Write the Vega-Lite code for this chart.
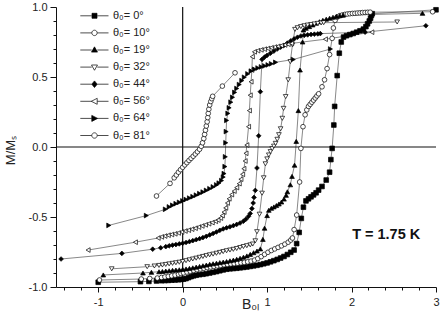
{
 "$schema": "https://vega.github.io/schema/vega-lite/v6.json",
 "width": 380, "height": 280,
 "autosize": {"type": "none"},
 "padding": {"left": 56, "top": 7, "right": 6, "bottom": 28},
 "background": "white",
 "config": {"view": {"stroke": null}, "font": "Liberation Sans"},
 "datasets": {"curves": [
{"s":"0","B":-1,"M":-0.966},{"s":"0","B":-0.5,"M":-0.962},{"s":"0","B":-0.4,"M":-0.96},{"s":"0","B":-0.31,"M":-0.957},
{"s":"0","B":-0.25,"M":-0.955},{"s":"0","B":-0.21,"M":-0.954},{"s":"0","B":-0.17,"M":-0.953},{"s":"0","B":-0.13,"M":-0.951},{"s":"0","B":-0.09,"M":-0.95},{"s":"0","B":-0.05,"M":-0.948},{"s":"0","B":-0.02,"M":-0.946},{"s":"0","B":0.01,"M":-0.944},{"s":"0","B":0.04,"M":-0.94},{"s":"0","B":0.07,"M":-0.933},{"s":"0","B":0.1,"M":-0.926},{"s":"0","B":0.13,"M":-0.92},{"s":"0","B":0.16,"M":-0.916},{"s":"0","B":0.2,"M":-0.912},{"s":"0","B":0.24,"M":-0.909},{"s":"0","B":0.28,"M":-0.905},{"s":"0","B":0.32,"M":-0.9},{"s":"0","B":0.36,"M":-0.895},{"s":"0","B":0.4,"M":-0.89},{"s":"0","B":0.44,"M":-0.884},{"s":"0","B":0.48,"M":-0.878},{"s":"0","B":0.52,"M":-0.873},{"s":"0","B":0.56,"M":-0.87},{"s":"0","B":0.6,"M":-0.868},{"s":"0","B":0.64,"M":-0.866},{"s":"0","B":0.68,"M":-0.863},{"s":"0","B":0.72,"M":-0.86},{"s":"0","B":0.76,"M":-0.857},{"s":"0","B":0.8,"M":-0.853},{"s":"0","B":0.84,"M":-0.849},{"s":"0","B":0.88,"M":-0.845},{"s":"0","B":0.92,"M":-0.84},{"s":"0","B":0.96,"M":-0.834},{"s":"0","B":1,"M":-0.828},{"s":"0","B":1.04,"M":-0.82},{"s":"0","B":1.08,"M":-0.812},{"s":"0","B":1.12,"M":-0.803},{"s":"0","B":1.16,"M":-0.793},{"s":"0","B":1.2,"M":-0.782},{"s":"0","B":1.24,"M":-0.768},{"s":"0","B":1.28,"M":-0.752},
{"s":"0","B":1.32,"M":-0.736},{"s":"0","B":1.35,"M":-0.69},{"s":"0","B":1.38,"M":-0.61},{"s":"0","B":1.405,"M":-0.51},{"s":"0","B":1.43,"M":-0.43},{"s":"0","B":1.46,"M":-0.385},{"s":"0","B":1.49,"M":-0.37},{"s":"0","B":1.52,"M":-0.356},{"s":"0","B":1.55,"M":-0.342},{"s":"0","B":1.58,"M":-0.327},{"s":"0","B":1.61,"M":-0.308},{"s":"0","B":1.65,"M":-0.282},{"s":"0","B":1.7,"M":-0.236},{"s":"0","B":1.74,"M":-0.18},{"s":"0","B":1.755,"M":-0.09},{"s":"0","B":1.77,"M":-0.01},{"s":"0","B":1.79,"M":0.157},{"s":"0","B":1.8,"M":0.29},{"s":"0","B":1.83,"M":0.51},{"s":"0","B":1.855,"M":0.67},{"s":"0","B":1.878,"M":0.75},{"s":"0","B":1.905,"M":0.785},{"s":"0","B":1.94,"M":0.795},{"s":"0","B":1.98,"M":0.803},{"s":"0","B":2.02,"M":0.811},{"s":"0","B":2.06,"M":0.82},{"s":"0","B":2.1,"M":0.83},{"s":"0","B":2.14,"M":0.842},{"s":"0","B":2.17,"M":0.86},{"s":"0","B":2.19,"M":0.88},{"s":"0","B":2.21,"M":0.9},{"s":"0","B":2.225,"M":0.92},{"s":"0","B":2.235,"M":0.94},{"s":"0","B":2.245,"M":0.952},{"s":"0","B":3,"M":0.98},
{"s":"10","B":-0.985,"M":-0.95},{"s":"10","B":-0.49,"M":-0.943},{"s":"10","B":-0.39,"M":-0.939},{"s":"10","B":-0.3,"M":-0.936},
{"s":"10","B":-0.25,"M":-0.932},{"s":"10","B":-0.21,"M":-0.928},{"s":"10","B":-0.17,"M":-0.924},{"s":"10","B":-0.13,"M":-0.92},{"s":"10","B":-0.09,"M":-0.915},{"s":"10","B":-0.05,"M":-0.909},{"s":"10","B":-0.02,"M":-0.904},{"s":"10","B":0.01,"M":-0.899},{"s":"10","B":0.05,"M":-0.893},{"s":"10","B":0.09,"M":-0.887},{"s":"10","B":0.13,"M":-0.881},{"s":"10","B":0.17,"M":-0.876},{"s":"10","B":0.21,"M":-0.871},{"s":"10","B":0.25,"M":-0.866},{"s":"10","B":0.29,"M":-0.861},{"s":"10","B":0.33,"M":-0.857},{"s":"10","B":0.37,"M":-0.853},{"s":"10","B":0.41,"M":-0.849},{"s":"10","B":0.45,"M":-0.845},{"s":"10","B":0.49,"M":-0.841},{"s":"10","B":0.53,"M":-0.838},{"s":"10","B":0.57,"M":-0.835},{"s":"10","B":0.61,"M":-0.833},{"s":"10","B":0.65,"M":-0.83},{"s":"10","B":0.69,"M":-0.827},{"s":"10","B":0.73,"M":-0.824},{"s":"10","B":0.77,"M":-0.82},{"s":"10","B":0.81,"M":-0.815},{"s":"10","B":0.85,"M":-0.808},{"s":"10","B":0.89,"M":-0.797},{"s":"10","B":0.93,"M":-0.783},{"s":"10","B":0.97,"M":-0.767},{"s":"10","B":1.01,"M":-0.752},{"s":"10","B":1.05,"M":-0.739},{"s":"10","B":1.09,"M":-0.728},{"s":"10","B":1.13,"M":-0.717},{"s":"10","B":1.17,"M":-0.706},{"s":"10","B":1.21,"M":-0.694},{"s":"10","B":1.25,"M":-0.68},{"s":"10","B":1.28,"M":-0.665},
{"s":"10","B":1.3,"M":-0.65},{"s":"10","B":1.32,"M":-0.59},{"s":"10","B":1.35,"M":-0.486},{"s":"10","B":1.385,"M":-0.25},{"s":"10","B":1.4,"M":-0.01},{"s":"10","B":1.425,"M":0.145},{"s":"10","B":1.45,"M":0.23},{"s":"10","B":1.47,"M":0.265},{"s":"10","B":1.49,"M":0.29},{"s":"10","B":1.51,"M":0.305},{"s":"10","B":1.53,"M":0.32},{"s":"10","B":1.55,"M":0.335},{"s":"10","B":1.57,"M":0.35},{"s":"10","B":1.59,"M":0.365},{"s":"10","B":1.61,"M":0.38},{"s":"10","B":1.65,"M":0.43},{"s":"10","B":1.68,"M":0.48},{"s":"10","B":1.71,"M":0.56},{"s":"10","B":1.74,"M":0.66},{"s":"10","B":1.77,"M":0.776},{"s":"10","B":1.785,"M":0.85},{"s":"10","B":1.805,"M":0.905},{"s":"10","B":1.83,"M":0.928},{"s":"10","B":1.86,"M":0.938},{"s":"10","B":1.89,"M":0.943},{"s":"10","B":1.92,"M":0.947},{"s":"10","B":1.95,"M":0.95},{"s":"10","B":1.98,"M":0.952},{"s":"10","B":2.01,"M":0.954},{"s":"10","B":2.04,"M":0.955},{"s":"10","B":2.07,"M":0.957},{"s":"10","B":2.1,"M":0.958},{"s":"10","B":2.13,"M":0.96},{"s":"10","B":2.16,"M":0.961},{"s":"10","B":2.19,"M":0.962},{"s":"10","B":2.22,"M":0.963},{"s":"10","B":2.96,"M":0.966},
{"s":"19","B":-0.94,"M":-0.914},{"s":"19","B":-0.47,"M":-0.9},{"s":"19","B":-0.37,"M":-0.895},{"s":"19","B":-0.28,"M":-0.891},
{"s":"19","B":-0.24,"M":-0.889},{"s":"19","B":-0.2,"M":-0.886},{"s":"19","B":-0.16,"M":-0.884},{"s":"19","B":-0.12,"M":-0.881},{"s":"19","B":-0.08,"M":-0.879},{"s":"19","B":-0.04,"M":-0.877},{"s":"19","B":0,"M":-0.874},{"s":"19","B":0.04,"M":-0.871},{"s":"19","B":0.08,"M":-0.867},{"s":"19","B":0.12,"M":-0.863},{"s":"19","B":0.16,"M":-0.858},{"s":"19","B":0.2,"M":-0.853},{"s":"19","B":0.24,"M":-0.848},{"s":"19","B":0.28,"M":-0.843},{"s":"19","B":0.32,"M":-0.838},{"s":"19","B":0.36,"M":-0.834},{"s":"19","B":0.4,"M":-0.83},{"s":"19","B":0.44,"M":-0.826},{"s":"19","B":0.48,"M":-0.822},{"s":"19","B":0.52,"M":-0.818},{"s":"19","B":0.56,"M":-0.813},{"s":"19","B":0.6,"M":-0.808},{"s":"19","B":0.64,"M":-0.802},{"s":"19","B":0.68,"M":-0.795},{"s":"19","B":0.72,"M":-0.787},{"s":"19","B":0.76,"M":-0.778},{"s":"19","B":0.8,"M":-0.767},{"s":"19","B":0.84,"M":-0.755},{"s":"19","B":0.88,"M":-0.743},{"s":"19","B":0.92,"M":-0.728},
{"s":"19","B":0.95,"M":-0.66},{"s":"19","B":0.97,"M":-0.58},{"s":"19","B":1,"M":-0.49},{"s":"19","B":1.02,"M":-0.452},{"s":"19","B":1.05,"M":-0.438},{"s":"19","B":1.08,"M":-0.428},{"s":"19","B":1.11,"M":-0.418},{"s":"19","B":1.14,"M":-0.407},{"s":"19","B":1.17,"M":-0.393},{"s":"19","B":1.2,"M":-0.372},{"s":"19","B":1.225,"M":-0.345},{"s":"19","B":1.24,"M":-0.32},{"s":"19","B":1.275,"M":-0.27},{"s":"19","B":1.295,"M":-0.21},{"s":"19","B":1.325,"M":-0.13},{"s":"19","B":1.345,"M":0.04},{"s":"19","B":1.37,"M":0.26},{"s":"19","B":1.39,"M":0.55},{"s":"19","B":1.42,"M":0.75},{"s":"19","B":1.43,"M":0.836},{"s":"19","B":1.46,"M":0.848},{"s":"19","B":1.5,"M":0.86},{"s":"19","B":1.54,"M":0.872},{"s":"19","B":1.58,"M":0.884},{"s":"19","B":1.62,"M":0.895},{"s":"19","B":1.66,"M":0.905},{"s":"19","B":1.7,"M":0.913},{"s":"19","B":1.74,"M":0.92},{"s":"19","B":1.78,"M":0.927},{"s":"19","B":1.82,"M":0.933},{"s":"19","B":1.86,"M":0.938},{"s":"19","B":1.9,"M":0.942},{"s":"19","B":2.84,"M":0.955},
{"s":"32","B":-0.84,"M":-0.87},{"s":"32","B":-0.42,"M":-0.855},{"s":"32","B":-0.335,"M":-0.85},
{"s":"32","B":-0.28,"M":-0.846},{"s":"32","B":-0.24,"M":-0.843},{"s":"32","B":-0.2,"M":-0.839},{"s":"32","B":-0.16,"M":-0.835},{"s":"32","B":-0.12,"M":-0.831},{"s":"32","B":-0.08,"M":-0.827},{"s":"32","B":-0.04,"M":-0.823},{"s":"32","B":0,"M":-0.818},{"s":"32","B":0.04,"M":-0.812},{"s":"32","B":0.08,"M":-0.806},{"s":"32","B":0.12,"M":-0.8},{"s":"32","B":0.16,"M":-0.794},{"s":"32","B":0.2,"M":-0.788},{"s":"32","B":0.24,"M":-0.782},{"s":"32","B":0.28,"M":-0.776},{"s":"32","B":0.32,"M":-0.77},{"s":"32","B":0.36,"M":-0.765},{"s":"32","B":0.4,"M":-0.759},{"s":"32","B":0.44,"M":-0.753},{"s":"32","B":0.48,"M":-0.747},{"s":"32","B":0.52,"M":-0.741},{"s":"32","B":0.56,"M":-0.736},{"s":"32","B":0.6,"M":-0.731},{"s":"32","B":0.64,"M":-0.725},{"s":"32","B":0.68,"M":-0.718},{"s":"32","B":0.72,"M":-0.711},{"s":"32","B":0.76,"M":-0.705},{"s":"32","B":0.8,"M":-0.699},{"s":"32","B":0.83,"M":-0.693},
{"s":"32","B":0.86,"M":-0.67},{"s":"32","B":0.88,"M":-0.605},{"s":"32","B":0.91,"M":-0.48},{"s":"32","B":0.94,"M":-0.33},{"s":"32","B":0.96,"M":-0.22},{"s":"32","B":0.98,"M":-0.12},{"s":"32","B":1,"M":-0.085},{"s":"32","B":1.02,"M":-0.057},{"s":"32","B":1.04,"M":-0.033},{"s":"32","B":1.06,"M":-0.012},{"s":"32","B":1.08,"M":0.006},{"s":"32","B":1.1,"M":0.026},{"s":"32","B":1.12,"M":0.055},{"s":"32","B":1.14,"M":0.088},{"s":"32","B":1.16,"M":0.13},{"s":"32","B":1.18,"M":0.205},{"s":"32","B":1.195,"M":0.276},{"s":"32","B":1.22,"M":0.36},{"s":"32","B":1.25,"M":0.48},{"s":"32","B":1.275,"M":0.61},{"s":"32","B":1.3,"M":0.73},{"s":"32","B":1.33,"M":0.84},{"s":"32","B":1.36,"M":0.852},{"s":"32","B":1.4,"M":0.86},{"s":"32","B":1.44,"M":0.866},{"s":"32","B":1.48,"M":0.871},{"s":"32","B":1.52,"M":0.875},{"s":"32","B":1.56,"M":0.879},{"s":"32","B":1.6,"M":0.883},{"s":"32","B":1.64,"M":0.886},{"s":"32","B":1.67,"M":0.888},{"s":"32","B":2.54,"M":0.893},
{"s":"44","B":-1.44,"M":-0.8},{"s":"44","B":-0.72,"M":-0.76},{"s":"44","B":-0.355,"M":-0.73},{"s":"44","B":-0.26,"M":-0.72},
{"s":"44","B":-0.2,"M":-0.712},{"s":"44","B":-0.16,"M":-0.706},{"s":"44","B":-0.12,"M":-0.701},{"s":"44","B":-0.08,"M":-0.697},{"s":"44","B":-0.04,"M":-0.692},{"s":"44","B":0,"M":-0.688},{"s":"44","B":0.04,"M":-0.682},{"s":"44","B":0.08,"M":-0.676},{"s":"44","B":0.12,"M":-0.669},{"s":"44","B":0.16,"M":-0.662},{"s":"44","B":0.2,"M":-0.655},{"s":"44","B":0.24,"M":-0.647},{"s":"44","B":0.28,"M":-0.638},{"s":"44","B":0.32,"M":-0.628},{"s":"44","B":0.36,"M":-0.618},{"s":"44","B":0.4,"M":-0.607},{"s":"44","B":0.44,"M":-0.595},{"s":"44","B":0.48,"M":-0.585},{"s":"44","B":0.52,"M":-0.577},{"s":"44","B":0.56,"M":-0.57},{"s":"44","B":0.6,"M":-0.562},{"s":"44","B":0.64,"M":-0.553},{"s":"44","B":0.68,"M":-0.543},{"s":"44","B":0.72,"M":-0.53},{"s":"44","B":0.75,"M":-0.515},{"s":"44","B":0.78,"M":-0.495},{"s":"44","B":0.8,"M":-0.475},{"s":"44","B":0.82,"M":-0.44},{"s":"44","B":0.835,"M":-0.4},{"s":"44","B":0.845,"M":-0.36},
{"s":"44","B":0.86,"M":-0.31},{"s":"44","B":0.88,"M":-0.15},{"s":"44","B":0.9,"M":0.08},{"s":"44","B":0.92,"M":0.395},{"s":"44","B":0.94,"M":0.626},{"s":"44","B":0.97,"M":0.642},{"s":"44","B":1,"M":0.655},{"s":"44","B":1.04,"M":0.67},{"s":"44","B":1.08,"M":0.685},{"s":"44","B":1.12,"M":0.7},{"s":"44","B":1.16,"M":0.713},{"s":"44","B":1.2,"M":0.726},{"s":"44","B":1.24,"M":0.742},{"s":"44","B":1.28,"M":0.758},{"s":"44","B":1.32,"M":0.772},{"s":"44","B":1.36,"M":0.784},{"s":"44","B":1.4,"M":0.793},{"s":"44","B":1.44,"M":0.798},{"s":"44","B":1.48,"M":0.801},{"s":"44","B":1.52,"M":0.804},{"s":"44","B":1.56,"M":0.806},{"s":"44","B":1.6,"M":0.808},{"s":"44","B":1.63,"M":0.81},{"s":"44","B":2.16,"M":0.82},{"s":"44","B":2.88,"M":0.866},
{"s":"56","B":-1.12,"M":-0.736},{"s":"56","B":-0.56,"M":-0.68},{"s":"56","B":-0.29,"M":-0.65},
{"s":"56","B":-0.25,"M":-0.642},{"s":"56","B":-0.21,"M":-0.636},{"s":"56","B":-0.17,"M":-0.63},{"s":"56","B":-0.13,"M":-0.625},{"s":"56","B":-0.09,"M":-0.62},{"s":"56","B":-0.05,"M":-0.614},{"s":"56","B":-0.01,"M":-0.607},{"s":"56","B":0.03,"M":-0.6},{"s":"56","B":0.07,"M":-0.594},{"s":"56","B":0.11,"M":-0.587},{"s":"56","B":0.15,"M":-0.58},{"s":"56","B":0.19,"M":-0.572},{"s":"56","B":0.23,"M":-0.564},{"s":"56","B":0.27,"M":-0.556},{"s":"56","B":0.31,"M":-0.548},{"s":"56","B":0.35,"M":-0.54},{"s":"56","B":0.39,"M":-0.531},{"s":"56","B":0.42,"M":-0.522},{"s":"56","B":0.45,"M":-0.508},{"s":"56","B":0.47,"M":-0.49},{"s":"56","B":0.49,"M":-0.465},{"s":"56","B":0.51,"M":-0.435},{"s":"56","B":0.53,"M":-0.4},{"s":"56","B":0.55,"M":-0.37},{"s":"56","B":0.58,"M":-0.34},{"s":"56","B":0.61,"M":-0.315},{"s":"56","B":0.64,"M":-0.29},{"s":"56","B":0.67,"M":-0.262},{"s":"56","B":0.69,"M":-0.23},{"s":"56","B":0.71,"M":-0.195},{"s":"56","B":0.725,"M":-0.155},{"s":"56","B":0.74,"M":-0.1},{"s":"56","B":0.75,"M":-0.045},
{"s":"56","B":0.76,"M":0.014},{"s":"56","B":0.78,"M":0.145},{"s":"56","B":0.79,"M":0.26},{"s":"56","B":0.8,"M":0.37},{"s":"56","B":0.81,"M":0.466},{"s":"56","B":0.82,"M":0.55},{"s":"56","B":0.825,"M":0.645},{"s":"56","B":0.85,"M":0.68},{"s":"56","B":0.89,"M":0.688},{"s":"56","B":0.93,"M":0.694},{"s":"56","B":0.97,"M":0.699},{"s":"56","B":1.01,"M":0.704},{"s":"56","B":1.05,"M":0.709},{"s":"56","B":1.09,"M":0.714},{"s":"56","B":1.13,"M":0.719},{"s":"56","B":1.17,"M":0.724},{"s":"56","B":1.21,"M":0.729},{"s":"56","B":1.25,"M":0.734},{"s":"56","B":1.29,"M":0.74},{"s":"56","B":1.69,"M":0.77},{"s":"56","B":2.24,"M":0.82},
{"s":"64","B":-0.875,"M":-0.56},{"s":"64","B":-0.43,"M":-0.49},{"s":"64","B":-0.205,"M":-0.445},
{"s":"64","B":-0.16,"M":-0.428},{"s":"64","B":-0.12,"M":-0.416},{"s":"64","B":-0.08,"M":-0.405},{"s":"64","B":-0.04,"M":-0.395},{"s":"64","B":0,"M":-0.385},{"s":"64","B":0.04,"M":-0.375},{"s":"64","B":0.08,"M":-0.365},{"s":"64","B":0.12,"M":-0.355},{"s":"64","B":0.16,"M":-0.344},{"s":"64","B":0.2,"M":-0.333},{"s":"64","B":0.24,"M":-0.322},{"s":"64","B":0.28,"M":-0.31},{"s":"64","B":0.32,"M":-0.298},{"s":"64","B":0.36,"M":-0.285},{"s":"64","B":0.4,"M":-0.271},{"s":"64","B":0.43,"M":-0.258},{"s":"64","B":0.46,"M":-0.24},{"s":"64","B":0.48,"M":-0.215},
{"s":"64","B":0.49,"M":-0.19},{"s":"64","B":0.5,"M":-0.14},{"s":"64","B":0.505,"M":-0.07},{"s":"64","B":0.51,"M":0.03},{"s":"64","B":0.515,"M":0.11},{"s":"64","B":0.52,"M":0.19},{"s":"64","B":0.535,"M":0.24},{"s":"64","B":0.55,"M":0.28},{"s":"64","B":0.57,"M":0.32},{"s":"64","B":0.59,"M":0.355},{"s":"64","B":0.615,"M":0.39},{"s":"64","B":0.64,"M":0.418},{"s":"64","B":0.67,"M":0.446},{"s":"64","B":0.7,"M":0.474},{"s":"64","B":0.73,"M":0.498},{"s":"64","B":0.77,"M":0.522},{"s":"64","B":0.81,"M":0.542},{"s":"64","B":0.85,"M":0.555},{"s":"64","B":0.89,"M":0.564},{"s":"64","B":0.93,"M":0.572},{"s":"64","B":0.97,"M":0.579},{"s":"64","B":1.01,"M":0.586},{"s":"64","B":1.05,"M":0.594},{"s":"64","B":1.1,"M":0.605},{"s":"64","B":1.31,"M":0.625},{"s":"64","B":1.75,"M":0.7},
{"s":"81","B":-0.31,"M":-0.35},{"s":"81","B":-0.15,"M":-0.26},{"s":"81","B":-0.1,"M":-0.22},{"s":"81","B":-0.075,"M":-0.2},{"s":"81","B":-0.05,"M":-0.18},{"s":"81","B":-0.025,"M":-0.162},{"s":"81","B":0,"M":-0.145},{"s":"81","B":0.025,"M":-0.128},{"s":"81","B":0.05,"M":-0.112},{"s":"81","B":0.075,"M":-0.096},{"s":"81","B":0.1,"M":-0.081},{"s":"81","B":0.125,"M":-0.066},{"s":"81","B":0.15,"M":-0.05},{"s":"81","B":0.175,"M":-0.034},{"s":"81","B":0.2,"M":-0.016},{"s":"81","B":0.22,"M":0.005},{"s":"81","B":0.235,"M":0.03},{"s":"81","B":0.25,"M":0.06},{"s":"81","B":0.26,"M":0.09},{"s":"81","B":0.27,"M":0.12},{"s":"81","B":0.28,"M":0.15},{"s":"81","B":0.29,"M":0.18},{"s":"81","B":0.297,"M":0.21},{"s":"81","B":0.303,"M":0.24},{"s":"81","B":0.31,"M":0.27},{"s":"81","B":0.32,"M":0.3},{"s":"81","B":0.333,"M":0.325},{"s":"81","B":0.345,"M":0.345},{"s":"81","B":0.355,"M":0.362},{"s":"81","B":0.47,"M":0.435},{"s":"81","B":0.62,"M":0.53}
 ]},
 "layer": [
  {
   "data": {"name": "curves"},
   "mark": {"type": "line", "stroke": "#555", "strokeWidth": 0.7},
   "encoding": {
    "x": {"field": "B", "type": "quantitative",
     "scale": {"domain": [-1.5, 3], "nice": false, "zero": false},
     "axis": {"orient": "bottom", "title": "B₀ₗ", "values": [-1, 0, 1, 2, 3], "format": "d",
      "labelExpr": "replace(datum.label, '−', '-')",
      "tickSize": 5, "grid": false, "domainColor": "#111", "tickColor": "#111", "labelColor": "#222", "labelFontSize": 11,
      "labelPadding": 4, "labelOverlap": false, "labelFlush": false, "labelBound": false,
      "titleFontSize": 14, "titleFontWeight": "normal", "titleColor": "#222", "titleX": 194, "titleY": 21, "titleBaseline": "alphabetic", "titleAlign": "center"}},
    "y": {"field": "M", "type": "quantitative",
     "scale": {"domain": [-1, 1], "nice": false, "zero": false},
     "axis": {"orient": "left", "title": "M/Mₛ", "values": [-1, -0.5, 0, 0.5, 1], "format": ".1f",
      "labelExpr": "replace(datum.label, '−', '-')",
      "tickSize": 6, "grid": false, "domainColor": "#111", "tickColor": "#111", "labelColor": "#222", "labelFontSize": 11,
      "labelPadding": 3, "labelOverlap": false, "labelFlush": false, "labelBound": false,
      "titleFontSize": 13, "titleFontWeight": "normal", "titleColor": "#222", "titleAngle": 270, "titleX": -46, "titleY": 143, "titleAlign": "center", "titleBaseline": "middle"}},
    "detail": {"field": "s", "type": "nominal"},
    "order": {"field": "M", "type": "quantitative"}
   }
  },
  {
   "data": {"values": [{"B": 0}]},
   "mark": {"type": "rule", "color": "#111", "strokeWidth": 1.2},
   "encoding": {"x": {"field": "B", "type": "quantitative",
     "axis": {"orient": "bottom", "title": null, "labels": false, "domain": false, "grid": false, "tickSize": 3, "tickColor": "#111",
      "values": [-1.4,-1.2,-0.8,-0.6,-0.4,-0.2,0.2,0.4,0.6,0.8,1.2,1.4,1.6,1.8,2.2,2.4,2.6,2.8]}}}
  },
  {
   "data": {"values": [{"M": 0}]},
   "mark": {"type": "rule", "color": "#111", "strokeWidth": 1.2},
   "encoding": {"y": {"field": "M", "type": "quantitative",
     "axis": {"orient": "left", "title": null, "labels": false, "domain": false, "grid": false, "tickSize": 3, "tickColor": "#111",
      "values": [-0.9,-0.8,-0.7,-0.6,-0.4,-0.3,-0.2,-0.1,0.1,0.2,0.3,0.4,0.6,0.7,0.8,0.9]}}}
  },
  {
   "data": {"name": "curves"},
   "mark": {"type": "point", "filled": true, "stroke": "black", "strokeWidth": 0.7, "size": 22, "opacity": 1},
   "encoding": {
    "x": {"field": "B", "type": "quantitative", "axis": null},
    "y": {"field": "M", "type": "quantitative", "axis": null},
    "shape": {"field": "s", "type": "nominal", "legend": null,
     "scale": {"domain": ["0","10","19","32","44","56","64","81"], "range": ["square","circle","triangle-up","triangle-down","diamond","triangle-left","triangle-right","circle"]}},
    "fill": {"field": "s", "type": "nominal", "legend": null,
     "scale": {"domain": ["0","10","19","32","44","56","64","81"], "range": ["black","white","black","white","black","white","black","white"]}}
   }
  },
  {
   "data": {"name": "curves"},
   "transform": [{"filter": "datum.M > 5"}],
   "mark": {"type": "point", "filled": true, "stroke": "black", "strokeWidth": 0.7, "size": 36, "opacity": 1},
   "encoding": {
    "x": {"field": "B", "type": "quantitative", "axis": null},
    "y": {"field": "M", "type": "quantitative", "axis": null},
    "shape": {"field": "s", "type": "nominal",
     "scale": {"domain": ["0","10","19","32","44","56","64","81"], "range": [
      "M-8.4,0H-4.6M-2.73,0H1M-4.5,-0.83H-2.83V0.83H-4.5Z",
      "M-8.4,0H-4.6M-2.73,0H1M-2.77,0A0.9,0.9 0 1 1 -4.57,0A0.9,0.9 0 1 1 -2.77,0Z",
      "M-8.4,0H-4.6M-2.73,0H1M-3.667,-1.05L-2.67,0.7L-4.67,0.7Z",
      "M-8.4,0H-4.6M-2.73,0H1M-3.667,1.05L-2.67,-0.7L-4.67,-0.7Z",
      "M-8.4,0H-4.6M-2.73,0H1M-3.667,-1.1L-2.77,0L-3.667,1.1L-4.57,0Z",
      "M-8.4,0H-4.6M-2.73,0H1M-4.72,0L-2.77,-1L-2.77,1Z",
      "M-8.4,0H-4.6M-2.73,0H1M-2.62,0L-4.57,-1L-4.57,1Z",
      "M-8.4,0H-4.6M-2.73,0H1M-2.77,0A0.9,0.9 0 1 1 -4.57,0A0.9,0.9 0 1 1 -2.77,0Z"]},
     "legend": {"title": null, "orient": "none", "legendX": 44, "legendY": 3.3, "direction": "vertical", "padding": 0, "rowPadding": 5.1, "labelOffset": 2, "symbolSize": 36, "symbolStrokeWidth": 0.7, "symbolStrokeColor": "black", "symbolOpacity": 1, "labelFontSize": 11, "labelFont": "Liberation Sans", "labelColor": "#222", "labelExpr": "'θ₀= ' + datum.label + '°'",
      "encode": {"symbols": {"update": {"stroke": {"value": "black"}, "strokeWidth": {"value": 0.7}, "opacity": {"value": 1}}}}}},
    "fill": {"field": "s", "type": "nominal",
     "scale": {"domain": ["0","10","19","32","44","56","64","81"], "range": ["black","white","black","white","black","white","black","white"]},
     "legend": {"title": null, "orient": "none", "legendX": 44, "legendY": 3.3, "direction": "vertical", "padding": 0, "rowPadding": 5.1, "labelOffset": 2, "symbolSize": 36, "symbolStrokeWidth": 0.7, "symbolStrokeColor": "black", "symbolOpacity": 1, "labelFontSize": 11, "labelFont": "Liberation Sans", "labelColor": "#222", "labelExpr": "'θ₀= ' + datum.label + '°'",
      "encode": {"symbols": {"update": {"stroke": {"value": "black"}, "strokeWidth": {"value": 0.7}, "opacity": {"value": 1}}}}}}
   }
  },
  {
   "data": {"values": [{"B": 2.41, "M": -0.63, "t": "T = 1.75 K"}]},
   "mark": {"type": "text", "fontSize": 14.5, "fontWeight": "bold", "font": "Liberation Sans", "color": "#111"},
   "encoding": {
    "x": {"field": "B", "type": "quantitative", "axis": null},
    "y": {"field": "M", "type": "quantitative", "axis": null},
    "text": {"field": "t"}
   }
  }
 ],
 "resolve": {"scale": {"shape": "independent", "fill": "independent"}, "axis": {"x": "independent", "y": "independent"}}
}
